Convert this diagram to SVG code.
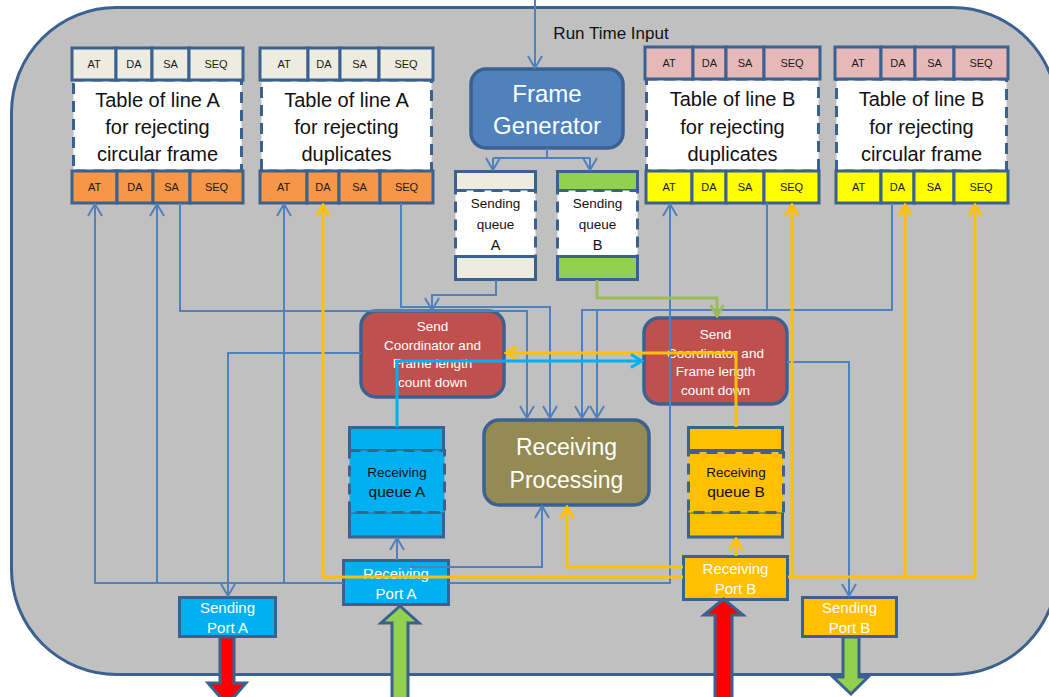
<svg xmlns="http://www.w3.org/2000/svg" width="1049" height="697" viewBox="0 0 1049 697">
  <style>
    text { font-family: "Liberation Sans", Arial, sans-serif; text-anchor: middle; }
    .frame { fill: #c0c0c0; stroke: #3b6190; stroke-width: 3; }
    .cell { stroke: #3b6190; stroke-width: 3; }
    .beige { fill: #eeece1; }
    .orange { fill: #f79646; }
    .pink { fill: #e6b9b8; }
    .yellow { fill: #ffff00; }
    .dash { fill: #ffffff; stroke: #3b6190; stroke-width: 3; stroke-dasharray: 11 7; }
    .celltxt { font-size: 11px; fill: #1a1a1a; }
    .tabtxt { font-size: 20px; fill: #111; }
    .box { stroke: #3b6190; stroke-width: 3.5; }
    .wtxt { fill: #ffffff; }
    .qtxt { font-size: 13.5px; fill: #111; }
    .blue { fill: none; stroke: #4f81bd; stroke-width: 2; }
    .yel { fill: none; stroke: #ffc000; stroke-width: 3; }
    .cyan { fill: none; stroke: #00b0f0; stroke-width: 3; }
    .grn { fill: none; stroke: #9bbb59; stroke-width: 3; }
    .big { stroke: #3b6190; stroke-width: 3; stroke-linejoin: miter; }
  </style>
  <defs>
    <marker id="ab" viewBox="0 0 14 16" refX="13" refY="8" markerWidth="14" markerHeight="16" markerUnits="userSpaceOnUse" orient="auto">
      <path d="M1,1 L13,8 L1,15" fill="none" stroke="#4f81bd" stroke-width="2"/>
    </marker>
    <marker id="ay" viewBox="0 0 14 16" refX="12" refY="8" markerWidth="14" markerHeight="16" markerUnits="userSpaceOnUse" orient="auto">
      <path d="M1,1.5 L12,8 L1,14.5" fill="none" stroke="#ffc000" stroke-width="3"/>
    </marker>
    <marker id="ac" viewBox="0 0 14 16" refX="12" refY="8" markerWidth="14" markerHeight="16" markerUnits="userSpaceOnUse" orient="auto">
      <path d="M1,1.5 L12,8 L1,14.5" fill="none" stroke="#00b0f0" stroke-width="3"/>
    </marker>
    <marker id="ag" viewBox="0 0 14 16" refX="12" refY="8" markerWidth="14" markerHeight="16" markerUnits="userSpaceOnUse" orient="auto">
      <path d="M1,1.5 L12,8 L1,14.5" fill="none" stroke="#9bbb59" stroke-width="3"/>
    </marker>
  </defs>

  <!-- enclosing device -->
  <rect class="frame" x="11.5" y="7.5" width="1046" height="667" rx="105"/>

  <text x="611" y="39" style="font-size:17px;fill:#111">Run Time Input</text>

  <!-- Table of line A, circular frames -->
  <g id="tableA-circular">
    <rect class="dash" x="73.5" y="80" width="168" height="91"/>
    <rect class="cell beige" x="72" y="48" width="44" height="32"/>
    <rect class="cell beige" x="116" y="48" width="36" height="32"/>
    <rect class="cell beige" x="152" y="48" width="37" height="32"/>
    <rect class="cell beige" x="189" y="48" width="54" height="32"/>
    <rect class="cell orange" x="72" y="171" width="45" height="32"/>
    <rect class="cell orange" x="117" y="171" width="36" height="32"/>
    <rect class="cell orange" x="153" y="171" width="37" height="32"/>
    <rect class="cell orange" x="190" y="171" width="53" height="32"/>
    <g class="celltxt">
      <text x="94" y="68">AT</text><text x="134" y="68">DA</text><text x="170.5" y="68">SA</text><text x="216" y="68">SEQ</text>
      <text x="94.5" y="191">AT</text><text x="135" y="191">DA</text><text x="171.5" y="191">SA</text><text x="216.5" y="191">SEQ</text>
    </g>
    <g class="tabtxt">
      <text x="157.5" y="107">Table of line A</text>
      <text x="157.5" y="134">for rejecting</text>
      <text x="157.5" y="161">circular frame</text>
    </g>
  </g>

  <!-- Table of line A, duplicates -->
  <g id="tableA-duplicates">
    <rect class="dash" x="261.5" y="80" width="170" height="91"/>
    <rect class="cell beige" x="260" y="48" width="48" height="32"/>
    <rect class="cell beige" x="308" y="48" width="32" height="32"/>
    <rect class="cell beige" x="340" y="48" width="39" height="32"/>
    <rect class="cell beige" x="379" y="48" width="54" height="32"/>
    <rect class="cell orange" x="260" y="171" width="47" height="32"/>
    <rect class="cell orange" x="307" y="171" width="32" height="32"/>
    <rect class="cell orange" x="339" y="171" width="41" height="32"/>
    <rect class="cell orange" x="380" y="171" width="53" height="32"/>
    <g class="celltxt">
      <text x="284" y="68">AT</text><text x="324" y="68">DA</text><text x="359.5" y="68">SA</text><text x="406" y="68">SEQ</text>
      <text x="283.5" y="191">AT</text><text x="323" y="191">DA</text><text x="359.5" y="191">SA</text><text x="406.5" y="191">SEQ</text>
    </g>
    <g class="tabtxt">
      <text x="346.5" y="107">Table of line A</text>
      <text x="346.5" y="134">for rejecting</text>
      <text x="346.5" y="161">duplicates</text>
    </g>
  </g>

  <!-- Table of line B, duplicates -->
  <g id="tableB-duplicates">
    <rect class="dash" x="646.5" y="79" width="172" height="92"/>
    <rect class="cell pink" x="645" y="47" width="48" height="32"/>
    <rect class="cell pink" x="693" y="47" width="33" height="32"/>
    <rect class="cell pink" x="726" y="47" width="38" height="32"/>
    <rect class="cell pink" x="764" y="47" width="56" height="32"/>
    <rect class="cell yellow" x="646" y="171" width="46" height="32"/>
    <rect class="cell yellow" x="692" y="171" width="34" height="32"/>
    <rect class="cell yellow" x="726" y="171" width="38" height="32"/>
    <rect class="cell yellow" x="764" y="171" width="55" height="32"/>
    <g class="celltxt">
      <text x="669" y="67">AT</text><text x="709.5" y="67">DA</text><text x="745" y="67">SA</text><text x="792" y="67">SEQ</text>
      <text x="669" y="191">AT</text><text x="709" y="191">DA</text><text x="745" y="191">SA</text><text x="791.5" y="191">SEQ</text>
    </g>
    <g class="tabtxt">
      <text x="732.5" y="106">Table of line B</text>
      <text x="732.5" y="134">for rejecting</text>
      <text x="732.5" y="161">duplicates</text>
    </g>
  </g>

  <!-- Table of line B, circular frames -->
  <g id="tableB-circular">
    <rect class="dash" x="836.5" y="79" width="170" height="92"/>
    <rect class="cell pink" x="835" y="47" width="46" height="32"/>
    <rect class="cell pink" x="881" y="47" width="34" height="32"/>
    <rect class="cell pink" x="915" y="47" width="39" height="32"/>
    <rect class="cell pink" x="954" y="47" width="54" height="32"/>
    <rect class="cell yellow" x="836" y="171" width="45" height="32"/>
    <rect class="cell yellow" x="881" y="171" width="33" height="32"/>
    <rect class="cell yellow" x="914" y="171" width="40" height="32"/>
    <rect class="cell yellow" x="954" y="171" width="54" height="32"/>
    <g class="celltxt">
      <text x="858" y="67">AT</text><text x="898" y="67">DA</text><text x="934.5" y="67">SA</text><text x="981" y="67">SEQ</text>
      <text x="858.5" y="191">AT</text><text x="897.5" y="191">DA</text><text x="934" y="191">SA</text><text x="981" y="191">SEQ</text>
    </g>
    <g class="tabtxt">
      <text x="921.5" y="106">Table of line B</text>
      <text x="921.5" y="134">for rejecting</text>
      <text x="921.5" y="161">circular frame</text>
    </g>
  </g>

  <!-- Frame generator -->
  <g id="frame-generator">
    <rect class="box" x="471" y="69" width="152" height="79" rx="15" fill="#4f81bd"/>
    <text class="wtxt" x="547" y="102" style="font-size:24px">Frame</text>
    <text class="wtxt" x="547" y="134" style="font-size:24px">Generator</text>
  </g>

  <!-- Sending queues -->
  <g id="sending-queue-A">
    <rect class="cell beige" x="455.5" y="171.5" width="80" height="19"/>
    <rect class="dash" x="455.5" y="190.5" width="80" height="66"/>
    <rect class="cell beige" x="455.5" y="256.5" width="80" height="23"/>
    <g class="qtxt">
      <text x="495.5" y="208">Sending</text>
      <text x="495.5" y="229">queue</text>
      <text x="495.5" y="250" style="font-size:14.5px">A</text>
    </g>
  </g>
  <g id="sending-queue-B">
    <rect class="cell" fill="#92d050" x="557.5" y="171.5" width="80" height="19"/>
    <rect class="dash" x="557.5" y="190.5" width="80" height="66"/>
    <rect class="cell" fill="#92d050" x="557.5" y="256.5" width="80" height="23"/>
    <g class="qtxt">
      <text x="597.5" y="208">Sending</text>
      <text x="597.5" y="229">queue</text>
      <text x="597.5" y="250" style="font-size:14.5px">B</text>
    </g>
  </g>

  <!-- Send coordinators -->
  <g id="send-coordinator-A">
    <rect class="box" x="361" y="311" width="143" height="86" rx="15" fill="#c0504d"/>
    <g class="wtxt" style="font-size:13.5px">
      <text x="432.5" y="331">Send</text>
      <text x="432.5" y="349.5">Coordinator and</text>
      <text x="432.5" y="368">Frame length</text>
      <text x="432.5" y="387">count down</text>
    </g>
  </g>
  <g id="send-coordinator-B">
    <rect class="box" x="644" y="318" width="143" height="86" rx="15" fill="#c0504d"/>
    <g class="wtxt" style="font-size:13.5px">
      <text x="715.5" y="339">Send</text>
      <text x="715.5" y="357.5">Coordinator and</text>
      <text x="715.5" y="376">Frame length</text>
      <text x="715.5" y="394.5">count down</text>
    </g>
  </g>

  <!-- Receiving processing -->
  <g id="receiving-processing">
    <rect class="box" x="484" y="420" width="165" height="85" rx="15" fill="#948a54"/>
    <text class="wtxt" x="566.5" y="455" style="font-size:23px">Receiving</text>
    <text class="wtxt" x="566.5" y="488" style="font-size:23px">Processing</text>
  </g>

  <!-- Receiving queues -->
  <g id="receiving-queue-A">
    <rect class="cell" fill="#00b0f0" x="349.5" y="427.5" width="94" height="23"/>
    <rect class="cell" fill="#00b0f0" x="349.5" y="512" width="94" height="25"/>
    <rect x="349.5" y="450.5" width="95" height="62" fill="#00b0f0" stroke="#3b6190" stroke-width="3" stroke-dasharray="11 7"/>
    <text x="397" y="477" style="font-size:13.5px;fill:#111">Receiving</text>
    <text x="397" y="497" style="font-size:15.5px;fill:#111">queue A</text>
  </g>
  <g id="receiving-queue-B">
    <rect class="cell" fill="#ffc000" x="688.5" y="427.5" width="94" height="23"/>
    <rect class="cell" fill="#ffc000" x="688.5" y="512" width="94" height="25"/>
    <rect x="688.5" y="452.5" width="95" height="60" fill="#ffc000" stroke="#3b6190" stroke-width="3" stroke-dasharray="11 7"/>
    <text x="736" y="477" style="font-size:13.5px;fill:#111">Receiving</text>
    <text x="736" y="497" style="font-size:15.5px;fill:#111">queue B</text>
  </g>

  <!-- Ports -->
  <g id="receiving-port-A">
    <rect class="cell" fill="#00b0f0" x="343.5" y="560.5" width="105" height="44"/>
    <text class="wtxt" x="396" y="579" style="font-size:15px">Receiving</text>
    <text class="wtxt" x="396" y="599" style="font-size:15px">Port A</text>
  </g>
  <g id="receiving-port-B">
    <rect class="cell" fill="#ffc000" x="683.5" y="556.5" width="104" height="43"/>
    <text class="wtxt" x="735.5" y="574" style="font-size:15px">Receiving</text>
    <text class="wtxt" x="735.5" y="594" style="font-size:15px">Port B</text>
  </g>
  <g id="sending-port-A">
    <rect class="cell" fill="#00b0f0" x="179.5" y="597.5" width="96" height="39"/>
    <text class="wtxt" x="227.5" y="613" style="font-size:15px">Sending</text>
    <text class="wtxt" x="227.5" y="633" style="font-size:15px">Port A</text>
  </g>
  <g id="sending-port-B">
    <rect class="cell" fill="#ffc000" x="802.5" y="597.5" width="94" height="39"/>
    <text class="wtxt" x="849.5" y="613" style="font-size:15px">Sending</text>
    <text class="wtxt" x="849.5" y="633" style="font-size:15px">Port B</text>
  </g>

  <!-- Connectors -->
  <g id="connectors">
    <!-- run time input and frame generator fan-out -->
    <path class="blue" d="M535,0 V68" marker-end="url(#ab)"/>
    <path class="blue" d="M547,148 V158 M493,158 H590"/>
    <path class="blue" d="M493,158 V170" marker-end="url(#ab)"/>
    <path class="blue" d="M590,158 V170" marker-end="url(#ab)"/>

    <!-- into send coordinator A -->
    <path class="blue" d="M496,280 V295 H432 V310" marker-end="url(#ab)"/>
    <path class="blue" d="M401,203 V307 H550 V418" marker-end="url(#ab)"/>
    <path class="blue" d="M180,203 V311 H527 V418" marker-end="url(#ab)"/>
    <!-- line B tables into receiving processing -->
    <path class="blue" d="M767,203 V310"/>
    <path class="blue" d="M892,203 V310 H582 V418" marker-end="url(#ab)"/>
    <path class="blue" d="M597,310 V418" marker-end="url(#ab)"/>

    <!-- send coordinators to sending ports -->
    <path class="blue" d="M361,353 H228 V596" marker-end="url(#ab)"/>
    <path class="blue" d="M787,362 H849 V596" marker-end="url(#ab)"/>

    <!-- receiving port A outputs -->
    <path class="blue" d="M343,583 H95 V204" marker-end="url(#ab)"/>
    <path class="blue" d="M157,583 V204" marker-end="url(#ab)"/>
    <path class="blue" d="M284,583 V204" marker-end="url(#ab)"/>
    <path class="blue" d="M449,583 H670 V204" marker-end="url(#ab)"/>
    <path class="blue" d="M410,567 H542 V506" marker-end="url(#ab)"/>
    <path class="blue" d="M397,560 V538" marker-end="url(#ab)"/>

    <!-- sending queue B to send coordinator B -->
    <path class="grn" d="M597,280 V298 H717 V316" marker-end="url(#ag)"/>

    <!-- receiving port B outputs -->
    <path class="yel" d="M736,556 V539" marker-end="url(#ay)"/>
    <path class="yel" d="M736,427 V353 H506" marker-end="url(#ay)"/>
    <path class="yel" d="M683,577 H323 V205" marker-end="url(#ay)"/>
    <path class="yel" d="M683,567 H567 V507" marker-end="url(#ay)"/>
    <path class="yel" d="M788,577 H975 V205" marker-end="url(#ay)"/>
    <path class="yel" d="M792,577 V205" marker-end="url(#ay)"/>
    <path class="yel" d="M905,577 V205" marker-end="url(#ay)"/>

    <!-- receiving queue A to send coordinator B -->
    <path class="cyan" d="M397,427 V361 H642" marker-end="url(#ac)"/>
  </g>

  <!-- Line arrows at the ports -->
  <g id="line-arrows">
    <polygon class="big" fill="#ff0000" points="220,637 234,637 234,683 246,683 227,705 208,683 220,683"/>
    <polygon class="big" fill="#92d050" points="392,700 392,623 381,623 400,606 419,623 408,623 408,700"/>
    <polygon class="big" fill="#ff0000" points="715,700 715,615 704,615 723.5,599 743,615 732,615 732,700"/>
    <polygon class="big" fill="#92d050" points="843,637 859,637 859,677 868,677 851,694 833,677 843,677"/>
  </g>
</svg>
